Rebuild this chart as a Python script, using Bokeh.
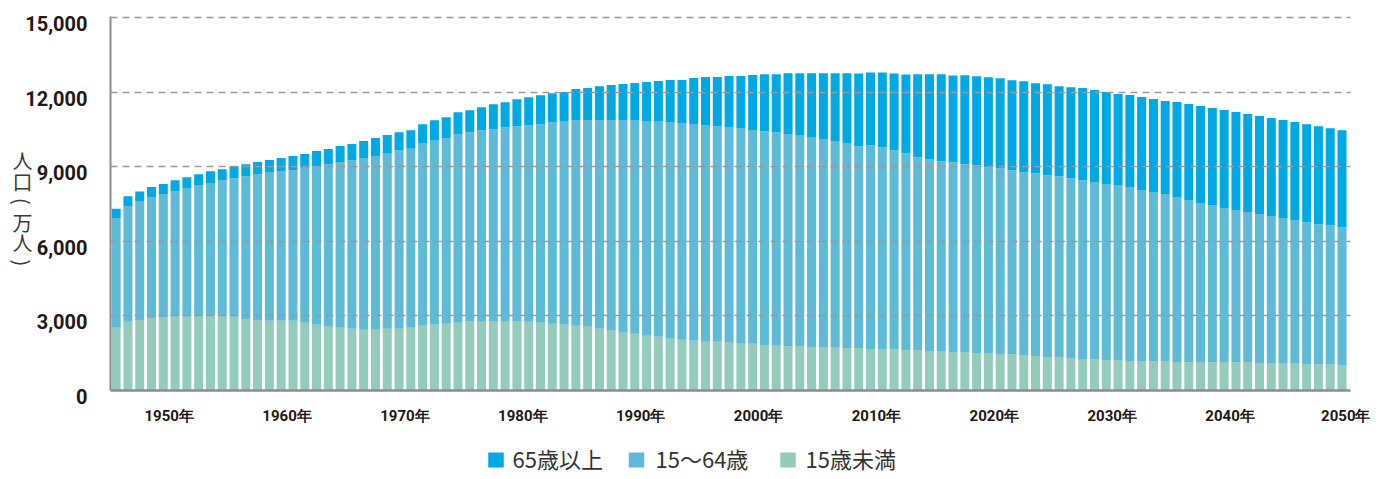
import math
from bokeh.plotting import figure
from bokeh.models import Range1d, FixedTicker, ColumnDataSource
from bokeh.layouts import column, row
from bokeh.embed import file_html
from bokeh.resources import INLINE

# ---------------- data (万人) ----------------
years = [1945] + list(range(1947, 2051))

under15 = [2520, 2760, 2840, 2920, 2960, 2970, 2970, 3000, 3010, 3000,
           2970, 2880, 2840, 2800, 2800, 2800, 2720, 2640, 2560, 2520,
           2480, 2440, 2440, 2480, 2480, 2520, 2600, 2640, 2680, 2720,
           2760, 2760, 2760, 2760, 2760, 2760, 2720, 2680, 2640, 2600,
           2560, 2480, 2400, 2320, 2280, 2200, 2160, 2080, 2040, 2000,
           1960, 1960, 1920, 1880, 1880, 1830, 1830, 1790, 1790, 1750,
           1750, 1750, 1710, 1710, 1670, 1670, 1670, 1630, 1630, 1590,
           1590, 1550, 1550, 1510, 1510, 1470, 1470, 1430, 1390, 1350,
           1350, 1310, 1270, 1270, 1230, 1230, 1190, 1190, 1190, 1190,
           1150, 1150, 1150, 1150, 1150, 1150, 1150, 1110, 1110, 1110,
           1110, 1070, 1070, 1070, 1030]

age15_64 = [4420, 4660, 4780, 4860, 4940, 5050, 5170, 5260, 5330, 5460,
            5570, 5740, 5870, 5990, 6030, 6070, 6240, 6390, 6550, 6670,
            6790, 6910, 6990, 7070, 7170, 7200, 7350, 7430, 7470, 7590,
            7630, 7710, 7750, 7830, 7870, 7910, 7990, 8110, 8200, 8280,
            8320, 8400, 8480, 8560, 8600, 8640, 8680, 8720, 8720, 8720,
            8720, 8680, 8680, 8680, 8600, 8600, 8560, 8520, 8480, 8440,
            8360, 8280, 8240, 8110, 8190, 8110, 7990, 7910, 7750, 7710,
            7630, 7630, 7550, 7550, 7470, 7470, 7390, 7350, 7350, 7310,
            7270, 7230, 7190, 7110, 7070, 7030, 6990, 6870, 6790, 6710,
            6630, 6510, 6390, 6310, 6190, 6110, 6030, 5990, 5910, 5830,
            5750, 5700, 5620, 5580, 5540]

over65 = [370, 390, 380, 400, 400, 440, 440, 440, 480, 440,
          480, 480, 480, 480, 520, 560, 550, 600, 600, 640,
          640, 680, 720, 720, 740, 750, 760, 800, 840, 880,
          880, 920, 1000, 1000, 1080, 1120, 1160, 1160, 1160, 1240,
          1280, 1360, 1410, 1450, 1490, 1570, 1610, 1690, 1730, 1850,
          1930, 1970, 2050, 2090, 2210, 2290, 2330, 2450, 2490, 2570,
          2650, 2730, 2810, 2930, 2930, 3010, 3090, 3170, 3340, 3420,
          3500, 3490, 3580, 3580, 3620, 3620, 3620, 3660, 3620, 3660,
          3620, 3660, 3700, 3700, 3700, 3660, 3700, 3740, 3740, 3740,
          3820, 3860, 3900, 3900, 3940, 3940, 3940, 3940, 3940, 3940,
          3940, 3940, 3940, 3900, 3900]

label_years = [1950, 1960, 1970, 1980, 1990, 2000, 2010, 2020, 2030, 2040, 2050]
y_ticks = [0, 3000, 6000, 9000, 12000, 15000]
series_names = ["65歳以上", "15〜64歳", "15歳未満"]
y_title_chars = ["人", "口", "(", "万", "人", ")"]
Y_MAX = 15000

C_OLD = "#00a8e4"
C_MID = "#5ebad6"
C_YOUNG = "#95cbbb"
TXT = "#231815"
CJK = "Noto Sans CJK JP"

# layout constants (pixels)
TOP_H = 430          # height of chart row
FRAME_TOP = 17
FRAME_BOT = 390
LEFT_W = 100         # strip holding y tick labels and the y title
px_per_unit = (FRAME_BOT - FRAME_TOP) / Y_MAX

# ---------------- main chart ----------------
idx = list(range(len(years)))
src = ColumnDataSource(dict(x=idx, u15=under15, w=age15_64, o=over65))

p = figure(width=1370 - LEFT_W, height=TOP_H, output_backend="svg",
           toolbar_location=None, frame_align=False,
           x_range=Range1d(-0.48, 104.72),
           y_range=Range1d(0, Y_MAX + 1 / px_per_unit),
           min_border_left=10, min_border_right=20, min_border_top=FRAME_TOP - 1,
           min_border_bottom=TOP_H - FRAME_BOT)
p.outline_line_color = None

rs = p.vbar_stack(["u15", "w", "o"], x="x", width=0.764, source=src,
                  fill_color=[C_YOUNG, C_MID, C_OLD], line_color=None)

p.xgrid.visible = False
p.ygrid.ticker = FixedTicker(ticks=y_ticks[1:])
p.ygrid.grid_line_color = "#9a9a9a"
p.ygrid.grid_line_dash = "7 5"
p.ygrid.grid_line_width = 1.5
p.ygrid.level = "annotation"

ya = p.yaxis[0]
ya.ticker = FixedTicker(ticks=y_ticks)
ya.major_label_overrides = {t: "" for t in y_ticks}
ya.major_label_standoff = 0
ya.major_tick_line_color = None
ya.minor_tick_line_color = None
ya.axis_line_color = "#8c8c8c"
ya.axis_line_width = 2

xa = p.xaxis[0]
tick_pos = [years.index(y) + 0.5 for y in label_years]
xa.ticker = FixedTicker(ticks=tick_pos)
xa.major_label_overrides = {t: f"{y}年" for t, y in zip(tick_pos, label_years)}
xa.major_tick_line_color = None
xa.minor_tick_line_color = None
xa.major_label_text_font = "Roboto"
xa.major_label_text_font_style = "bold"
xa.major_label_text_font_size = "15px"
xa.major_label_text_color = TXT
xa.major_label_standoff = 10
xa.axis_line_color = "#8c8c8c"
xa.axis_line_width = 2.5

# ---------------- left strip: y tick labels + vertical title ----------------
# same vertical scale as the main chart's frame
y_lo = -(TOP_H - FRAME_BOT) / px_per_unit
y_hi = Y_MAX + FRAME_TOP / px_per_unit
lf = figure(width=LEFT_W, height=TOP_H, output_backend="svg", toolbar_location=None,
            frame_align=False,
            x_range=Range1d(0, LEFT_W), y_range=Range1d(y_lo, y_hi),
            x_axis_location=None, y_axis_location=None, min_border=0)
lf.outline_line_color = None
lf.grid.visible = False
lf.text(x=[LEFT_W - 13] * len(y_ticks), y=y_ticks, text=[f"{t:,}" for t in y_ticks],
        text_align="right", text_baseline="middle", y_offset=6,
        text_font={"value": "Roboto"}, text_font_style="bold",
        text_font_size="20px", text_color=TXT)

title_py = [160 + 20.5 * i for i in range(len(y_title_chars))]
title_y = [(FRAME_BOT - py) / px_per_unit for py in title_py]
title_angle = [-math.pi / 2 if c in "()" else 0 for c in y_title_chars]
lf.text(x=[22] * len(y_title_chars), y=title_y, text=y_title_chars, angle=title_angle,
        text_align="center", text_baseline="middle",
        text_font={"value": CJK}, text_font_size="20px", text_color="#3a3a3a")

# ---------------- legend row ----------------
LEG_H = 41
gf = figure(width=1370, height=LEG_H, output_backend="svg", toolbar_location=None,
            frame_align=False,
            x_range=Range1d(0, 1370), y_range=Range1d(LEG_H, 0),
            x_axis_location=None, y_axis_location=None, min_border=0)
gf.outline_line_color = None
gf.grid.visible = False
sq_x = [495.5, 636, 787.5]
tx_x = [512, 655, 805]
gf.rect(x=sq_x, y=[29.5] * 3, width=15.5, height=15,
        fill_color=[C_OLD, C_MID, C_YOUNG], line_color=None)
gf.text(x=tx_x, y=[27.5] * 3, text=series_names, text_align="left",
        text_baseline="middle", text_font={"value": CJK}, text_font_size="22px",
        text_color="#333333")

layout = column(row(lf, p), gf)
open("out.html", "w").write(file_html(layout, INLINE))
